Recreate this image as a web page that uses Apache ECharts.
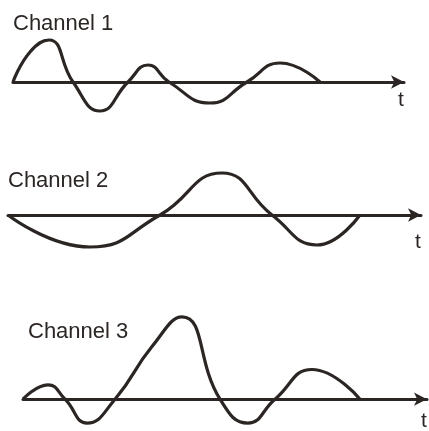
<!DOCTYPE html>
<html>
<head>
<meta charset="utf-8">
<script src="https://cdn.jsdelivr.net/npm/echarts@6/dist/echarts.min.js"></script>
<style>
html, body { margin: 0; padding: 0; background: #fff; }
#chart { width: 429px; height: 431px; }
</style>
</head>
<body>
<div id="chart"></div>
<script>
// 三个通道的波形, [t, 幅值] (t 与幅值都按图上读出的像素量)
var channelNames = ['Channel 1', 'Channel 2', 'Channel 3'];
var channel1 = [[13, 0], [30, 30], [49, 42], [73, 0], [100, -29], [128, 0], [148, 17], [169, 0], [210, -21], [247, 0], [280, 19], [320, 0]];
var channel2 = [[8, 0], [90, -32], [160, 0], [222, 42], [272, 0], [317, -30], [360, 0]];
var channel3 = [[23, 0], [48, 15], [65, 0], [87, -25], [115, 0], [152, 55], [182, 86], [220, 0], [248, -25], [275, 0], [312, 31], [360, 0]];
var tickName = 't';

// 每个通道的坐标轴范围 (t 起点, t 终点, 最小值, 最大值)
var tRange = [[13, 404], [8, 421], [23, 427]];
var vRange = [[-35, 45], [-40, 45], [-28, 90]];
var axisY = [82, 215, 403];
var titlePos = [[13, 13], [8, 170], [28, 321]];
var namePad = [8, 17, 12];

var lineColor = '#2b2624';
var waves = [channel1, channel2, channel3];

var grids = [], xAxes = [], yAxes = [], series = [], titles = [];
for (var i = 0; i < 3; i++) {
    grids.push({
        left: tRange[i][0],
        width: tRange[i][1] - tRange[i][0],
        top: axisY[i] - vRange[i][1],
        height: vRange[i][1] - vRange[i][0]
    });
    xAxes.push({
        gridIndex: i,
        type: 'value',
        min: tRange[i][0],
        max: tRange[i][1],
        name: tickName,
        nameLocation: 'end',
        nameGap: -3,
        nameTextStyle: {
            color: lineColor,
            fontFamily: 'Liberation Sans',
            fontSize: 21,
            align: 'center',
            verticalAlign: 'top',
            padding: [namePad[i], 0, 0, 0]
        },
        axisLine: {
            onZero: true,
            symbol: ['none', 'arrow'],
            symbolSize: [10, 13],
            lineStyle: { color: lineColor, width: 3 }
        },
        axisTick: { show: false },
        axisLabel: { show: false },
        splitLine: { show: false }
    });
    yAxes.push({
        gridIndex: i,
        type: 'value',
        min: vRange[i][0],
        max: vRange[i][1],
        show: false,
        splitLine: { show: false }
    });
    series.push({
        type: 'line',
        xAxisIndex: i,
        yAxisIndex: i,
        data: waves[i],
        smooth: true,
        showSymbol: false,
        clip: false,
        lineStyle: { color: lineColor, width: 3.2 },
        z: 3
    });
    titles.push({
        text: channelNames[i],
        left: titlePos[i][0],
        top: titlePos[i][1],
        padding: 0,
        textStyle: {
            color: lineColor,
            fontFamily: 'Liberation Sans',
            fontSize: 22,
            fontWeight: 'normal'
        }
    });
}

var option = {
    backgroundColor: '#fff',
    animation: false,
    title: titles,
    grid: grids,
    xAxis: xAxes,
    yAxis: yAxes,
    series: series
};

var myChart = echarts.init(document.getElementById('chart'));
myChart.setOption(option);
</script>
</body>
</html>
